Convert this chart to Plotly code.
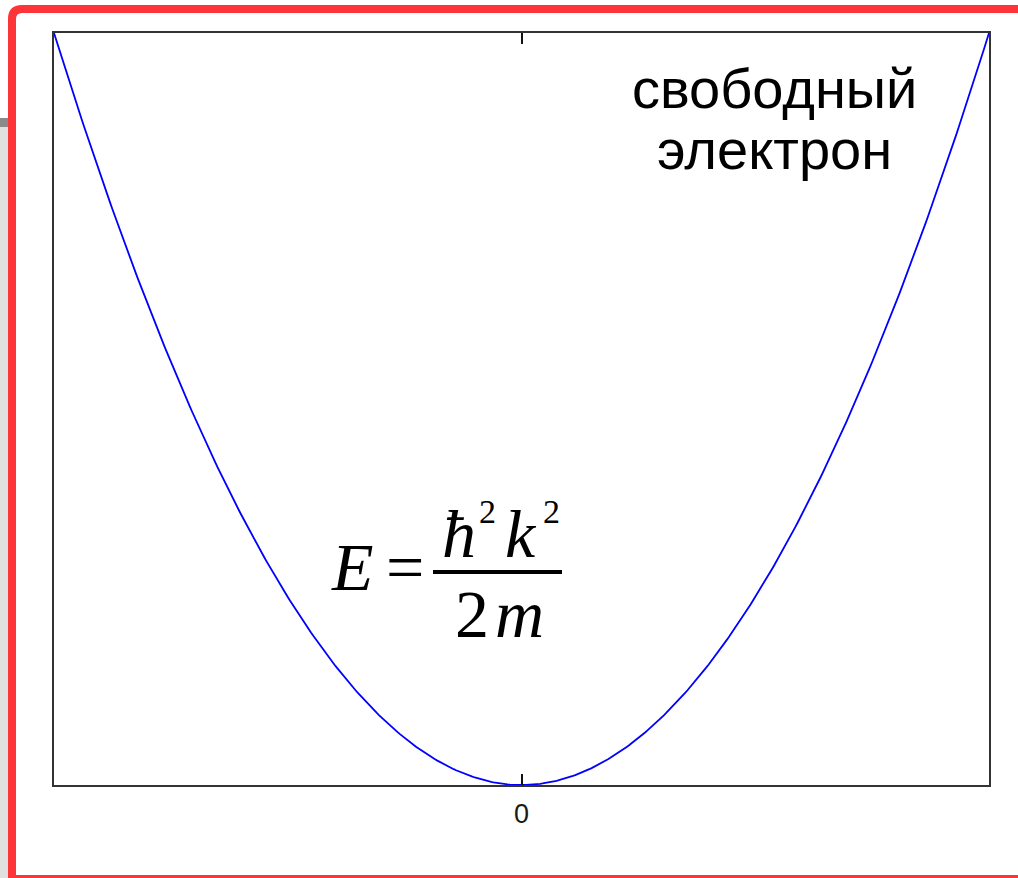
import numpy as np
import plotly.graph_objects as go

# Free-electron dispersion E(k) = hbar^2 k^2 / (2m), in reduced units
HBAR = 1.0
MASS = 0.5
k_values = np.linspace(-1.0, 1.0, 401)
energy = HBAR ** 2 * k_values ** 2 / (2 * MASS)

x_tick_vals = [0]
x_tick_text = ["0"]
caption_lines = ["свободный", "электрон"]

W, H = 1018, 878
L, R, T, B = 54, 989, 33, 785


def px(x):
    return (x - L) / (R - L)


def py(y):
    return (B - y) / (B - T)


SERIF = "Liberation Serif"
SANS = "Liberation Sans"

fig = go.Figure()
fig.add_trace(go.Scatter(
    x=k_values, y=energy, mode="lines",
    line=dict(color="#0000ff", width=1.8),
    hoverinfo="skip", showlegend=False,
))


def label(text, cx, baseline, size, family=SERIF, italic=False):
    asc = 0.3375 if family == SERIF else 0.3465
    t = f"<i>{text}</i>" if italic else text
    fig.add_annotation(
        x=px(cx), y=py(baseline - asc * size), xref="paper", yref="paper",
        text=t, showarrow=False, xanchor="center", yanchor="middle",
        font=dict(family=family, size=size, color="#000000"),
    )


# formula E = hbar^2 k^2 / 2m
FS = 68
SUP = 34
label("E", 352, 590, FS, italic=True)
label("=", 405, 590, FS)
label("ħ", 459, 557, FS, italic=True)
label("2", 487, 523, SUP)
label("k", 521, 557, FS, italic=True)
label("2", 551, 523, SUP)
label("2", 472, 637, FS)
label("m", 519, 637, FS, italic=True)

# caption in the upper right corner
label(caption_lines[0], 774, 108, 56, family=SANS)
label(caption_lines[1], 774, 169, 56, family=SANS)

shapes = [
    # fraction bar
    dict(type="line", xref="paper", yref="paper",
         x0=px(433), x1=px(562), y0=py(572), y1=py(572),
         line=dict(color="#000000", width=4)),
    # grey strip at the left edge
    dict(type="rect", xref="paper", yref="paper",
         x0=px(-2), x1=px(8), y0=py(127), y1=py(H + 2),
         fillcolor="#e0e0e0", line=dict(width=0), layer="below"),
    dict(type="rect", xref="paper", yref="paper",
         x0=px(-2), x1=px(8), y0=py(118), y1=py(127),
         fillcolor="#8a8a8a", line=dict(width=0), layer="below"),
]

# red slide frame with a rounded top-left corner
r = 10
fx0, fy0, fx1, fy1 = 12, 9, 1040, 879
frame_path = (
    f"M {px(fx1)},{py(fy0)} L {px(fx0 + r)},{py(fy0)} "
    f"Q {px(fx0)},{py(fy0)} {px(fx0)},{py(fy0 + r)} "
    f"L {px(fx0)},{py(fy1)} L {px(fx1)},{py(fy1)}"
)
shapes.append(dict(type="path", xref="paper", yref="paper", path=frame_path,
                   line=dict(color="#fe3538", width=8)))

fig.update_layout(
    width=W, height=H,
    margin=dict(l=L, r=W - R, t=T, b=H - B, pad=0),
    paper_bgcolor="#ffffff", plot_bgcolor="#ffffff",
    shapes=shapes,
    xaxis=dict(
        range=[-1, 1], showgrid=False, zeroline=False,
        showline=True, linecolor="#333333", linewidth=2, mirror="ticks",
        ticks="inside", ticklen=11, tickwidth=2, tickcolor="#111111",
        tickvals=x_tick_vals, ticktext=x_tick_text,
        tickfont=dict(family=SANS, size=27, color="#1a1a1a"),
        ticklabelstandoff=4,
    ),
    yaxis=dict(
        range=[0, 1], showgrid=False, zeroline=False,
        showline=True, linecolor="#333333", linewidth=2, mirror=True,
        ticks="", showticklabels=False,
    ),
)

fig.write_html("out.html")
